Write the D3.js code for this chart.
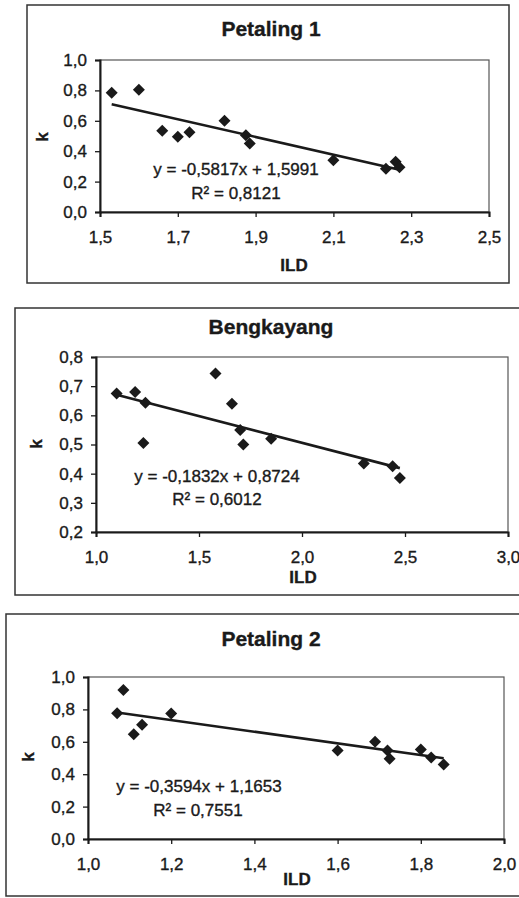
<!DOCTYPE html>
<html>
<head>
<meta charset="utf-8">
<script src="https://cdn.jsdelivr.net/npm/d3@7"></script>
<style>
  body { margin: 0; background: #fff; }
  svg { display: block; font-family: "Liberation Sans", Arial, sans-serif; }
  svg text { stroke: #1a1a1a; stroke-width: 0.35px; }
  .tick text { font-size: 17px; fill: #1a1a1a; }
  .tick line { stroke: #1a1a1a; stroke-width: 1.3; }
</style>
</head>
<body>
<div id="chart"></div>
<script>
// ---- data ----
const p1Ild = [1.53, 1.60, 1.66, 1.70, 1.73, 1.82, 1.875, 1.885, 2.10, 2.235, 2.26, 2.27];
const p1K   = [0.785, 0.805, 0.535, 0.495, 0.525, 0.60, 0.505, 0.45, 0.34, 0.285, 0.33, 0.295];
const p1Fit = { slope: -0.5817, intercept: 1.5991 };
const p1XTicks = [1.5, 1.7, 1.9, 2.1, 2.3, 2.5];
const p1YTicks = [0.0, 0.2, 0.4, 0.6, 0.8, 1.0];

const bIld = [1.10, 1.19, 1.24, 1.23, 1.58, 1.66, 1.70, 1.715, 1.85, 2.30, 2.44, 2.475];
const bK   = [0.675, 0.68, 0.643, 0.505, 0.743, 0.64, 0.55, 0.50, 0.52, 0.435, 0.425, 0.385];
const bFit = { slope: -0.1832, intercept: 0.8724 };
const bXTicks = [1.0, 1.5, 2.0, 2.5, 3.0];
const bYTicks = [0.2, 0.3, 0.4, 0.5, 0.6, 0.7, 0.8];

const p2Ild = [1.07, 1.085, 1.11, 1.13, 1.20, 1.60, 1.69, 1.72, 1.725, 1.80, 1.825, 1.855];
const p2K   = [0.777, 0.92, 0.647, 0.705, 0.775, 0.546, 0.60, 0.546, 0.495, 0.553, 0.503, 0.46];
const p2Fit = { slope: -0.3594, intercept: 1.1653 };
const p2XTicks = [1.0, 1.2, 1.4, 1.6, 1.8, 2.0];
const p2YTicks = [0.0, 0.2, 0.4, 0.6, 0.8, 1.0];

const titles = ["Petaling 1", "Bengkayang", "Petaling 2"];
const eqLabels = ["y = -0,5817x + 1,5991", "y = -0,1832x + 0,8724", "y = -0,3594x + 1,1653"];
const r2Labels = ["R\u00b2 = 0,8121", "R\u00b2 = 0,6012", "R\u00b2 = 0,7551"];

const width = 519;
const height = 898;

const svg = d3.select("#chart")
  .append("svg")
  .attr("width", width)
  .attr("height", height);

const fmt = d3.formatLocale({ decimal: ",", thousands: ".", grouping: [3], currency: ["", ""] }).format(".1f");

// layout of each panel (pixels)
const panels = [
  {
    x: p1Ild, y: p1K, fit: p1Fit, xTicks: p1XTicks, yTicks: p1YTicks,
    box: [27, 5, 509, 283], plot: [100, 60, 489, 212], titleY: 36,
    eq: [236, 175], r2: [236, 199], ild: [294, 271], k: [42, 137]
  },
  {
    x: bIld, y: bK, fit: bFit, xTicks: bXTicks, yTicks: bYTicks,
    box: [15, 308, 530, 595], plot: [96, 357, 508, 532], titleY: 334,
    eq: [217, 482], r2: [217, 505], ild: [303, 583], k: [36, 444]
  },
  {
    x: p2Ild, y: p2K, fit: p2Fit, xTicks: p2XTicks, yTicks: p2YTicks,
    box: [6, 614, 530, 896], plot: [88, 677, 504, 839], titleY: 646,
    eq: [199, 792], r2: [198, 816], ild: [297, 885], k: [28, 757]
  }
];

panels.forEach((p, idx) => {
  const g = svg.append("g");
  const [bx0, by0, bx1, by1] = p.box;
  const [px0, py0, px1, py1] = p.plot;

  // outer frame
  g.append("rect")
    .attr("x", bx0).attr("y", by0)
    .attr("width", bx1 - bx0).attr("height", by1 - by0)
    .attr("fill", "none").attr("stroke", "#333").attr("stroke-width", 1.5);

  g.append("text")
    .attr("x", 271).attr("y", p.titleY)
    .attr("text-anchor", "middle")
    .attr("font-size", 21).attr("font-weight", "bold").attr("fill", "#1a1a1a")
    .text(titles[idx]);

  const xScale = d3.scaleLinear()
    .domain(d3.extent(p.xTicks))
    .range([px0, px1]);
  const yScale = d3.scaleLinear()
    .domain(d3.extent(p.yTicks))
    .range([py1, py0]);

  // plot area border
  g.append("rect")
    .attr("x", px0).attr("y", py0)
    .attr("width", px1 - px0).attr("height", py1 - py0)
    .attr("fill", "none").attr("stroke", "#555").attr("stroke-width", 1.2);

  g.append("g")
    .attr("transform", `translate(0,${py1})`)
    .call(d3.axisBottom(xScale).tickValues(p.xTicks).tickFormat(fmt).tickSizeOuter(0).tickSize(5).tickPadding(14))
    .call(a => a.select(".domain").attr("stroke", "#1a1a1a").attr("stroke-width", 2));

  g.append("g")
    .attr("transform", `translate(${px0},0)`)
    .call(d3.axisLeft(yScale).tickValues(p.yTicks).tickFormat(fmt).tickSizeOuter(0).tickSize(5).tickPadding(8))
    .call(a => a.select(".domain").attr("stroke", "#1a1a1a").attr("stroke-width", 2));

  // trend line over the data range
  const [xmin, xmax] = d3.extent(p.x);
  const line = d3.line()
    .x(d => xScale(d))
    .y(d => yScale(p.fit.slope * d + p.fit.intercept));
  g.append("path")
    .attr("d", line([xmin, xmax]))
    .attr("fill", "none").attr("stroke", "#1a1a1a").attr("stroke-width", 2.6);

  // diamond markers
  const diamond = d3.symbol().type(d3.symbolSquare).size(72);
  g.selectAll(".pt")
    .data(p.x.map((v, i) => ({ x: v, y: p.y[i] })))
    .join("path")
    .attr("class", "pt")
    .attr("d", diamond)
    .attr("fill", "#1a1a1a")
    .attr("transform", d => `translate(${xScale(d.x)},${yScale(d.y)}) rotate(45)`);

  g.append("text")
    .attr("x", p.eq[0]).attr("y", p.eq[1])
    .attr("text-anchor", "middle").attr("font-size", 17).attr("fill", "#1a1a1a")
    .text(eqLabels[idx]);
  g.append("text")
    .attr("x", p.r2[0]).attr("y", p.r2[1])
    .attr("text-anchor", "middle").attr("font-size", 17).attr("fill", "#1a1a1a")
    .text(r2Labels[idx]);

  g.append("text")
    .attr("x", p.ild[0]).attr("y", p.ild[1])
    .attr("text-anchor", "middle").attr("font-size", 17).attr("font-weight", "bold").attr("fill", "#1a1a1a")
    .text("ILD");

  g.append("text")
    .attr("transform", `translate(${p.k[0]},${p.k[1]}) rotate(-90)`)
    .attr("text-anchor", "middle").attr("dy", "0.35em")
    .attr("font-size", 17).attr("font-weight", "bold").attr("fill", "#1a1a1a")
    .text("k");
});
</script>
</body>
</html>
